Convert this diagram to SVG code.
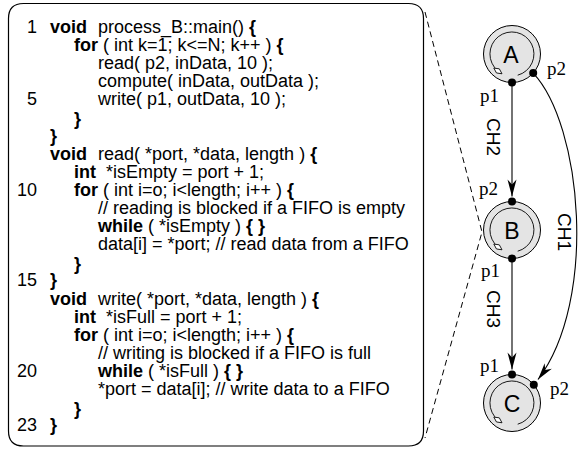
<svg xmlns="http://www.w3.org/2000/svg" xmlns:xlink="http://www.w3.org/1999/xlink" width="582" height="451" viewBox="0 0 582 451" xml:space="preserve">
<style>
.code{font-family:"Liberation Sans",Arial,sans-serif;font-size:18px;fill:#000}
.b{font-weight:bold}
.num{text-anchor:end}
.lbl{font-family:"Liberation Sans",Arial,sans-serif;font-size:19px;fill:#000}
.port{font-family:"Liberation Serif","Times New Roman",serif;font-size:19px;fill:#000}
.nlet{font-family:"Liberation Sans",Arial,sans-serif;font-size:23px;fill:#000;text-anchor:middle}
.box{fill:none;stroke:#000;stroke-width:1.2}
.dash{fill:none;stroke:#000;stroke-width:1;stroke-dasharray:6 4}
.edge{fill:none;stroke:#000;stroke-width:1.1}
.outer{fill:#e4e4e4;stroke:#000;stroke-width:1}
.inner{fill:none;stroke:#000;stroke-width:0.9}
.dia{fill:#fff;stroke:#000;stroke-width:0.8}
.dot{fill:#000}
</style>
<defs>
<marker id="arr" markerUnits="userSpaceOnUse" markerWidth="20" markerHeight="12" viewBox="-18 -6 20 12" refX="0" refY="0" orient="auto"><path d="M0,0 L-17,-4.5 L-12,0 L-17,4.5 Z" fill="#000"/></marker>
<g id="proc"><circle class="outer" cx="0" cy="0" r="28.5"/><path class="inner" d="M-14.1,16.9 A22,22 0 1 1 5.7,21.2"/><path class="dia" d="M-5,0 L0,-2.5 L5,0 L0,2.5 Z" transform="translate(-14.1,16.9) rotate(35)"/></g>
</defs>
<g id="code">
<path class="box" d="M23.5,3.5 H408.5 Q423.5,3.5 423.5,18.5 V431 Q423.5,446 408.5,446 H23.5 Q8.5,446 8.5,431 V18.5 Q8.5,3.5 23.5,3.5 Z"/>
<text class="code num" x="37" y="33">1</text>
<text class="code" y="33"><tspan class="b" x="50">void</tspan><tspan x="98">process_B::main()</tspan><tspan class="b"> {</tspan></text>
<text class="code" y="51.1"><tspan class="b" x="74">for</tspan><tspan> ( int k=1; k&lt;=N; k++ )</tspan><tspan class="b"> {</tspan></text>
<text class="code" x="98" y="69.2">read( p2, inData, 10 );</text>
<text class="code" x="98" y="87.3">compute( inData, outData );</text>
<text class="code num" x="37" y="105.4">5</text>
<text class="code" x="98" y="105.4">write( p1, outData, 10 );</text>
<text class="code b" x="74" y="125">}</text>
<text class="code b" x="50" y="141.6">}</text>
<text class="code" y="159.7"><tspan class="b" x="50">void</tspan><tspan x="98">read( *port, *data, length )</tspan><tspan class="b"> {</tspan></text>
<text class="code" y="177.8"><tspan class="b" x="74">int</tspan><tspan x="106">*isEmpty = port + 1;</tspan></text>
<text class="code num" x="37" y="195.9">10</text>
<text class="code" y="195.9"><tspan class="b" x="74">for</tspan><tspan> ( int i=o; i&lt;length; i++ )</tspan><tspan class="b"> {</tspan></text>
<text class="code" x="98" y="214">// reading is blocked if a FIFO is empty</text>
<text class="code" y="232.1"><tspan class="b" x="98">while</tspan><tspan> ( *isEmpty )</tspan><tspan class="b"> {  }</tspan></text>
<text class="code" x="98" y="250.2">data[i] = *port; // read data from a FIFO</text>
<text class="code b" x="74" y="269.5">}</text>
<text class="code num" x="37" y="286.4">15</text>
<text class="code b" x="50" y="286.4">}</text>
<text class="code" y="304.5"><tspan class="b" x="50">void</tspan><tspan x="98">write( *port, *data, length )</tspan><tspan class="b"> {</tspan></text>
<text class="code" y="322.6"><tspan class="b" x="74">int</tspan><tspan x="106">*isFull = port + 1;</tspan></text>
<text class="code" y="340.7"><tspan class="b" x="74">for</tspan><tspan> ( int i=o; i&lt;length; i++ )</tspan><tspan class="b"> {</tspan></text>
<text class="code" x="98" y="358.8">// writing is blocked if a FIFO is full</text>
<text class="code num" x="37" y="376.9">20</text>
<text class="code" y="376.9"><tspan class="b" x="98">while</tspan><tspan> ( *isFull )</tspan><tspan class="b"> {  }</tspan></text>
<text class="code" x="98" y="395">*port = data[i]; // write data to a FIFO</text>
<text class="code b" x="74" y="414.5">}</text>
<text class="code num" x="37" y="431.2">23</text>
<text class="code b" x="50" y="431.2">}</text>
</g>
<g id="zoom-lines">
<path class="dash" d="M425,12 L482,232 L425,438"/>
</g>
<g id="connectors">
<path id="CH2" class="edge" d="M512,82.5 L512,196.5" marker-end="url(#arr)"/>
<path id="CH3" class="edge" d="M512,258.5 L512,369.5" marker-end="url(#arr)"/>
<path id="CH1" class="edge" d="M533.2,73.1 C582,125 598,300 538,379.5" marker-end="url(#arr)"/>
<text class="lbl" text-anchor="middle" transform="translate(487,137) rotate(90)">CH2</text>
<text class="lbl" text-anchor="middle" transform="translate(558,232) rotate(90)">CH1</text>
<text class="lbl" text-anchor="middle" transform="translate(487,309) rotate(90)">CH3</text>
</g>
<g id="A">
<use xlink:href="#proc" transform="translate(512,54)"/>
<text class="nlet" x="511" y="63">A</text>
<circle class="dot" cx="512" cy="82.5" r="4"/>
<circle class="dot" cx="533.2" cy="73.1" r="4"/>
<text class="port" x="480" y="102">p1</text>
<text class="port" x="547" y="75">p2</text>
</g>
<g id="B">
<use xlink:href="#proc" transform="translate(512,230)"/>
<text class="nlet" x="512" y="239">B</text>
<circle class="dot" cx="512" cy="201.5" r="4"/>
<circle class="dot" cx="512" cy="258.5" r="4"/>
<text class="port" x="479" y="195">p2</text>
<text class="port" x="481" y="277">p1</text>
</g>
<g id="C">
<use xlink:href="#proc" transform="translate(512,403)"/>
<text class="nlet" x="512" y="412">C</text>
<circle class="dot" cx="512" cy="374.5" r="4"/>
<circle class="dot" cx="533.8" cy="384.7" r="4"/>
<text class="port" x="480" y="372">p1</text>
<text class="port" x="550" y="395">p2</text>
</g>
</svg>
